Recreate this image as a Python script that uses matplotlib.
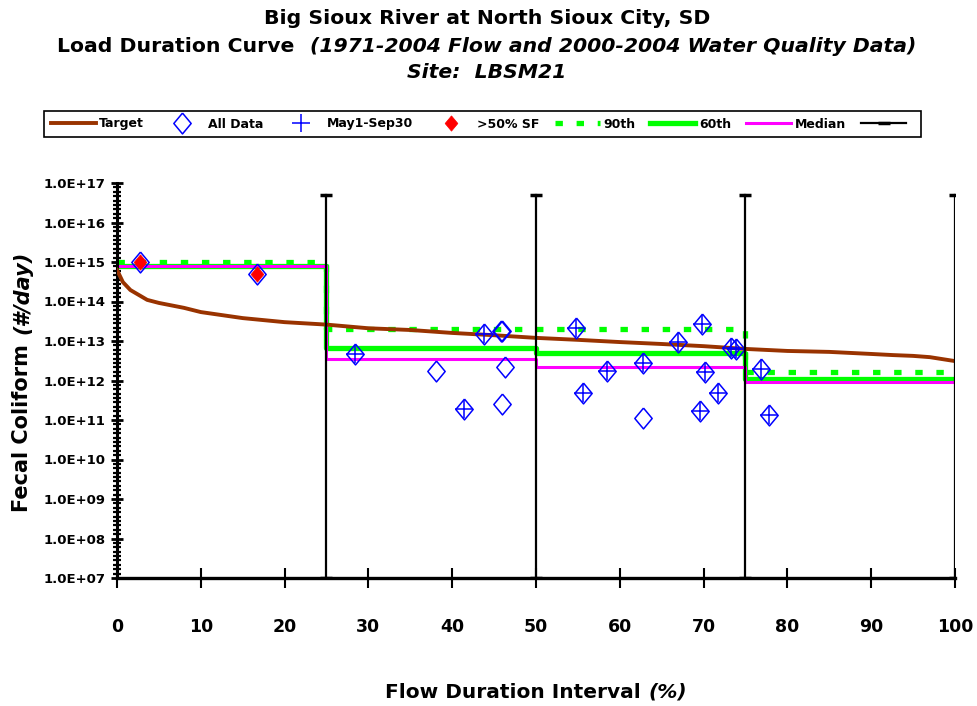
import numpy as np
import matplotlib
matplotlib.use("Agg")
import matplotlib.pyplot as plt
from matplotlib.ticker import FixedLocator, FuncFormatter, LogLocator, NullFormatter

plt.rcParams['font.family'] = ['DejaVu Sans']

# target load duration curve (percent of time flow exceeded, load #/day)
target_x = [0, 0.7, 1.6, 3.6, 5, 8, 10, 15, 20, 25, 30, 35, 40, 45, 50, 55, 60,
            65, 70, 75, 80, 85, 90, 92.6, 95, 97, 100]
target_y = [6.3e14, 3.1e14, 1.95e14, 1.1e14, 9.2e13, 6.9e13, 5.4e13, 3.8e13, 3.0e13,
            2.6e13, 2.1e13, 1.9e13, 1.6e13, 1.4e13, 1.2e13, 1.07e13, 9.4e12, 8.4e12,
            7.4e12, 6.3e12, 5.6e12, 5.3e12, 4.7e12, 4.4e12, 4.2e12, 3.9e12, 3.1e12]

# sample data
all_x = [2.7, 16.7, 28.4, 38.1, 41.4, 43.8, 45.8, 46.0, 46.3, 45.9,
         54.8, 55.6, 58.5, 62.8, 62.8, 66.9, 69.8, 69.6, 70.2, 71.7, 73.3, 73.9,
         76.9, 77.8]
all_y = [1.0e15, 5.1e14, 4.6e12, 1.7e12, 1.9e11, 1.5e13, 1.8e13, 1.8e13, 2.2e12, 2.6e11,
         2.1e13, 4.9e11, 1.7e12, 2.7e12, 1.1e11, 9.3e12, 2.7e13, 1.7e11, 1.6e12, 4.9e11,
         6.6e12, 6.3e12, 1.9e12, 1.3e11]
summer_x = [28.4, 41.4, 43.8, 54.8, 55.6, 58.5, 62.8, 66.9, 69.8, 69.6, 70.2, 71.7,
            73.3, 73.9, 76.9, 77.8]
summer_y = [4.6e12, 1.9e11, 1.5e13, 2.1e13, 4.9e11, 1.7e12, 2.7e12, 9.3e12, 2.7e13,
            1.7e11, 1.6e12, 4.9e11, 6.6e12, 6.3e12, 1.9e12, 1.3e11]
sf_x = [2.7, 16.7]
sf_y = [1.0e15, 5.1e14]

# percentiles per flow zone
zone_edges = [0, 25, 50, 75, 100]
p90 = [1.0e15, 2.0e13, 2.0e13, 1.6e12]
p60 = [8.0e14, 6.6e12, 5.0e12, 1.1e12]
median = [7.8e14, 3.5e12, 2.2e12, 9.0e11]

# zone divider lines
div_x = [25, 50, 75, 100]
div_bottom = 1e7
div_top = 5e16


def steps(values):
    xs, ys = [], []
    for i, v in enumerate(values):
        xs += [zone_edges[i], zone_edges[i + 1]]
        ys += [v, v]
    return xs, ys


def mixed_text(fig, cx, cy, parts, gap=8, rotation=0, **kw):
    # parts: (text, fontstyle); cx, cy in pixels from top-left
    W, H = fig.get_size_inches() * fig.dpi
    r = fig.canvas.get_renderer()
    objs = [fig.text(0, 0, s, fontstyle=st, rotation=rotation, **kw) for s, st in parts]
    if rotation == 0:
        sizes = [o.get_window_extent(r).width for o in objs]
    else:
        sizes = [o.get_window_extent(r).height for o in objs]
    total = sum(sizes) + gap * (len(objs) - 1)
    if rotation == 0:
        pos = cx - total / 2
        for o, s in zip(objs, sizes):
            o.set_position((pos / W, 1 - cy / H))
            o.set_ha('left')
            o.set_va('center')
            pos += s + gap
    else:
        pos = cy + total / 2  # bottom of first piece
        for o, s in zip(objs, sizes):
            o.set_position((cx / W, 1 - pos / H))
            o.set_ha('center')
            o.set_va('bottom')
            pos -= s + gap


fig = plt.figure(figsize=(9.78, 7.06), dpi=100)
ax = fig.add_axes([117 / 978, 1 - 578 / 706, (955 - 117) / 978, (578 - 183) / 706])

x, y = steps(p90)
h90, = ax.plot(x, y, color='#00ff00', lw=3.8, ls=(0, (1.4, 2.6)), label='90th', zorder=2)
x, y = steps(p60)
h60, = ax.plot(x, y, color='#00ff00', lw=3.8, label='60th', zorder=2)
x, y = steps(median)
hmed, = ax.plot(x, y, color='#ff00ff', lw=2.2, label='Median', zorder=2)

htar, = ax.plot(target_x, target_y, color='#993300', lw=2.8, label='Target', zorder=3)

diamond = [(0, 1.2), (1, 0), (0, -1.2), (-1, 0), (0, 1.2)]
hall, = ax.plot(all_x, all_y, ls='none', marker=diamond, ms=15, mfc='none', mec='#0000ff',
                mew=1.1, label='All Data', zorder=4)
hsum, = ax.plot(summer_x, summer_y, ls='none', marker='+', ms=13, mec='#0000ff',
                mew=1.1, label='May1-Sep30', zorder=4)
hsf, = ax.plot(sf_x, sf_y, ls='none', marker=diamond, ms=11, mfc='#ff0000', mec='#ff0000',
               mew=0.5, label='>50% SF', zorder=5)

vx, vy = [], []
for d in div_x:
    vx += [d, d, np.nan]
    vy += [div_bottom, div_top, np.nan]
hdiv, = ax.plot(vx, vy, color='black', lw=1.6, marker='_', ms=8, mew=2.5, label=' ', zorder=6)

ax.set_yscale('log')
ax.set_xlim(0, 100)
ax.set_ylim(1e7, 1e17)
ax.yaxis.set_major_locator(LogLocator(base=10, numticks=20))
ax.yaxis.set_minor_locator(FixedLocator(
    [10.0 ** (e + k / 9) for e in range(7, 17) for k in range(1, 9)]))
ax.yaxis.set_major_formatter(FuncFormatter(lambda v, p: f"{v:.1E}"))
ax.yaxis.set_minor_formatter(NullFormatter())
ax.xaxis.set_major_locator(FixedLocator(np.arange(0, 101, 10)))

for s in ['top', 'right']:
    ax.spines[s].set_visible(False)
ax.spines['left'].set_linewidth(2.2)
ax.spines['bottom'].set_linewidth(2.4)
ax.tick_params(axis='y', which='major', direction='inout', length=9, width=2,
               labelsize=9.5, pad=4)
ax.tick_params(axis='y', which='minor', direction='inout', length=6, width=1.6)
ax.tick_params(axis='x', which='major', direction='inout', length=14, width=1.5,
               labelsize=12.5, pad=22)
for lab in ax.get_xticklabels() + ax.get_yticklabels():
    lab.set_fontweight('bold')

leg = fig.legend(handles=[htar, hall, hsum, hsf, h90, h60, hmed, hdiv], ncol=8,
                 loc='center', bbox_to_anchor=(482.5 / 978, 1 - 124 / 706),
                 frameon=True, fancybox=False, edgecolor='black', framealpha=1,
                 prop={'size': 9, 'weight': 'bold'}, handlelength=3.6,
                 handletextpad=0.3, columnspacing=1.2, borderpad=0.5)
leg.get_frame().set_linewidth(1.2)

fig.canvas.draw()
tkw = dict(fontsize=14.7, fontweight='bold')
mixed_text(fig, 487, 18, [("Big Sioux River at North Sioux City, SD", 'normal')], **tkw)
mixed_text(fig, 487, 46, [("Load Duration Curve", 'normal'),
                          ("(1971-2004 Flow and 2000-2004 Water Quality Data)", 'italic')],
           gap=16, **tkw)
mixed_text(fig, 487, 73, [("Site:  LBSM21", 'italic')], **tkw)
mixed_text(fig, 536, 692, [("Flow Duration Interval", 'normal'), ("(%)", 'italic')],
           gap=8, fontsize=14.5, fontweight='bold')
mixed_text(fig, 22, 381, [("Fecal Coliform", 'normal'), ("(#/day)", 'italic')],
           gap=10, rotation=90, fontsize=15, fontweight='bold')

fig.savefig("out.png", dpi=100)
